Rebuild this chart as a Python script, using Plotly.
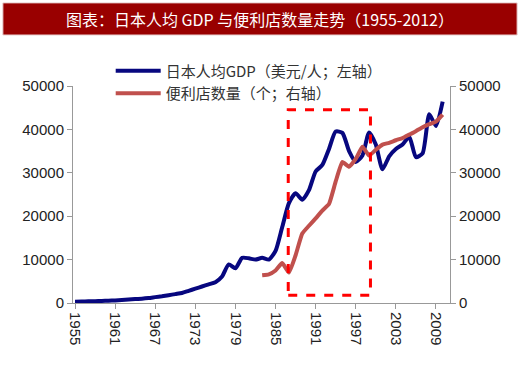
import plotly.graph_objects as go

# ---- data ----
gdp_years = list(range(1955, 2011))
gdp_values = [300, 330, 380, 420, 470, 520, 600, 680, 780, 900,
              1000, 1150, 1350, 1550, 1800, 2050, 2300, 2800, 3300, 3800,
              4300, 4800, 6100, 8900, 8000, 10400, 10300, 10000, 10400, 10000,
              12000, 17500, 23000, 25300, 23800, 26000, 30300, 31800, 35500, 39500,
              39200, 35000, 32500, 34000, 39300, 36500, 30800, 33800, 35500, 36500,
              38300, 33600, 34500, 43500, 40800, 46400]

store_years = list(range(1983, 2011))
store_values = [6400, 6600, 7500, 9200, 7000, 11000, 16000, 17800, 19500, 21300,
                22800, 28000, 32500, 31400, 33200, 36000, 34000, 35300, 36500, 36900,
                37500, 38000, 38800, 39600, 40500, 41200, 41800, 43400]

tick_years = [1955, 1961, 1967, 1973, 1979, 1985, 1991, 1997, 2003, 2009]
y_ticks = [0, 10000, 20000, 30000, 40000, 50000]

# highlighted period (box drawn in data units)
box_x = [1986.9, 1999.2]
box_y = [1800, 44500]

title_text = "图表：日本人均 GDP 与便利店数量走势（1955-2012）"
gdp_name = "日本人均GDP（美元/人；左轴）"
store_name = "便利店数量（个；右轴）"

# ---- figure ----
fig = go.Figure()
fig.add_trace(go.Scatter(x=gdp_years, y=gdp_values, name=gdp_name, mode="lines",
                         line=dict(color="#07077f", width=4, shape="spline", smoothing=0.6)))
fig.add_trace(go.Scatter(x=store_years, y=store_values, name=store_name, mode="lines",
                         yaxis="y2",
                         line=dict(color="#c0504d", width=4, shape="spline", smoothing=0.4)))

fig.add_shape(type="rect", xref="x", yref="y", x0=box_x[0], x1=box_x[1], y0=box_y[0], y1=box_y[1],
              line=dict(color="#ff0000", width=3, dash="dash"), fillcolor="rgba(0,0,0,0)")

# title banner
fig.add_shape(type="rect", xref="paper", yref="paper", x0=-0.186, x1=1.178, y0=1.235, y1=1.383,
              line=dict(color="#e8d0d0", width=1), fillcolor="#990000", layer="above")
fig.add_annotation(xref="paper", yref="paper", x=0.496, y=1.309, text=title_text, showarrow=False,
                   font=dict(family="Noto Sans CJK SC", size=16, color="white"),
                   xanchor="center", yanchor="middle")

axis_font = dict(family="Liberation Sans, Arial", size=15, color="#222222")
y_text = [str(v) for v in y_ticks]

fig.update_layout(
    width=520, height=371,
    margin=dict(l=73, r=70, t=86, b=68),
    paper_bgcolor="white", plot_bgcolor="white",
    showlegend=True,
    legend=dict(x=0.1, y=1.145, xanchor="left", yanchor="top",
                bgcolor="rgba(0,0,0,0)", itemwidth=45, tracegroupgap=0,
                font=dict(family="Noto Sans CJK SC", size=15, color="#333333")),
    xaxis=dict(range=[1954.7, 2011.1], tickvals=tick_years, ticktext=[str(t) for t in tick_years],
               tickangle=90, showgrid=False, zeroline=False, showline=True, linecolor="#999999",
               linewidth=1, ticks="outside", ticklen=5, tickcolor="#999999", tickfont=axis_font,
               automargin=False),
    yaxis=dict(range=[0, 50000], tickvals=y_ticks, ticktext=y_text, showgrid=False, zeroline=False,
               showline=True, linecolor="#999999", linewidth=1, ticks="outside", ticklen=5,
               tickcolor="#999999", tickfont=axis_font, automargin=False),
    yaxis2=dict(range=[0, 50000], tickvals=y_ticks, ticktext=y_text, overlaying="y", side="right",
                showgrid=False, zeroline=False, showline=True, linecolor="#999999", linewidth=1,
                ticks="outside", ticklen=5, tickcolor="#999999", tickfont=axis_font,
                automargin=False),
)

fig.write_html("out.html", config={"displayModeBar": False},
               post_script="document.body.style.margin='0';")
